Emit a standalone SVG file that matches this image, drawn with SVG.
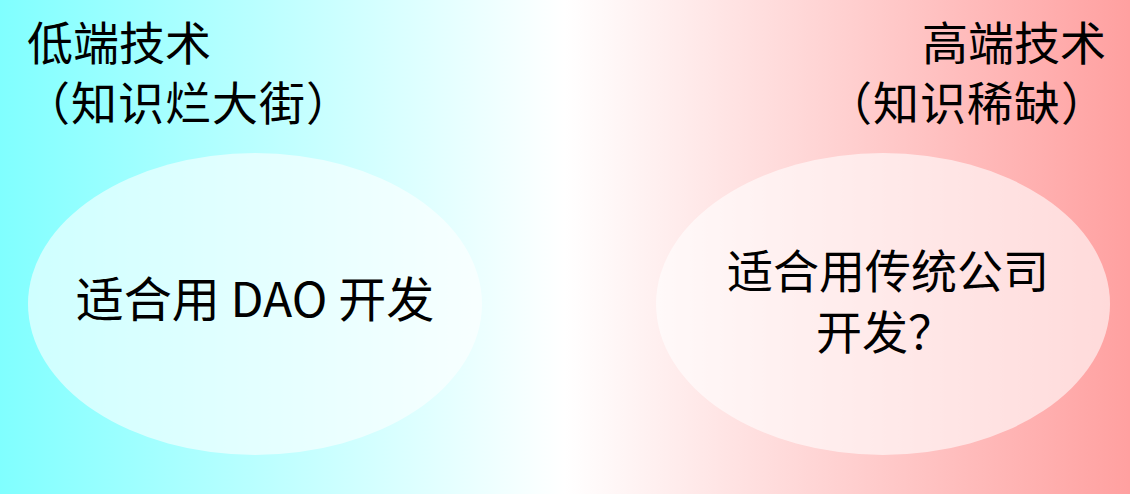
<svg xmlns="http://www.w3.org/2000/svg" width="1130" height="494" viewBox="0 0 1130 494">
  <defs>
    <linearGradient id="bg" x1="0" y1="0" x2="1" y2="0">
      <stop offset="0" stop-color="#80FFFF"/>
      <stop offset="0.5" stop-color="#FFFFFF"/>
      <stop offset="1" stop-color="#FFA0A0"/>
    </linearGradient>
  </defs>
  <style>
    text { font-family: "Noto Sans CJK SC", "Noto Sans", sans-serif; font-size: 46px; fill: #000; }
    .big { font-size: 48px; }
    .bubble { fill: #FFFFFF; fill-opacity: 0.6; }
  </style>
  <rect x="0" y="0" width="1130" height="494" fill="url(#bg)"/>
  <g id="low-title">
    <text x="27" y="60">低端技术</text>
    <text x="24" y="120" letter-spacing="1">（知识烂大街）</text>
  </g>
  <g id="high-title">
    <text x="1106" y="60" text-anchor="end">高端技术</text>
    <text x="1108" y="120" text-anchor="end" letter-spacing="1">（知识稀缺）</text>
  </g>
  <g id="low-node">
    <ellipse class="bubble" cx="255" cy="304" rx="227" ry="151"/>
    <text class="big" x="255" y="317" text-anchor="middle">适合用 DAO 开发</text>
  </g>
  <g id="high-node">
    <ellipse class="bubble" cx="883" cy="304" rx="227" ry="151"/>
    <text x="888" y="288" text-anchor="middle">适合用传统公司</text>
    <text x="885" y="349" text-anchor="middle">开发？</text>
  </g>
  <g id="connectors"/>
</svg>
